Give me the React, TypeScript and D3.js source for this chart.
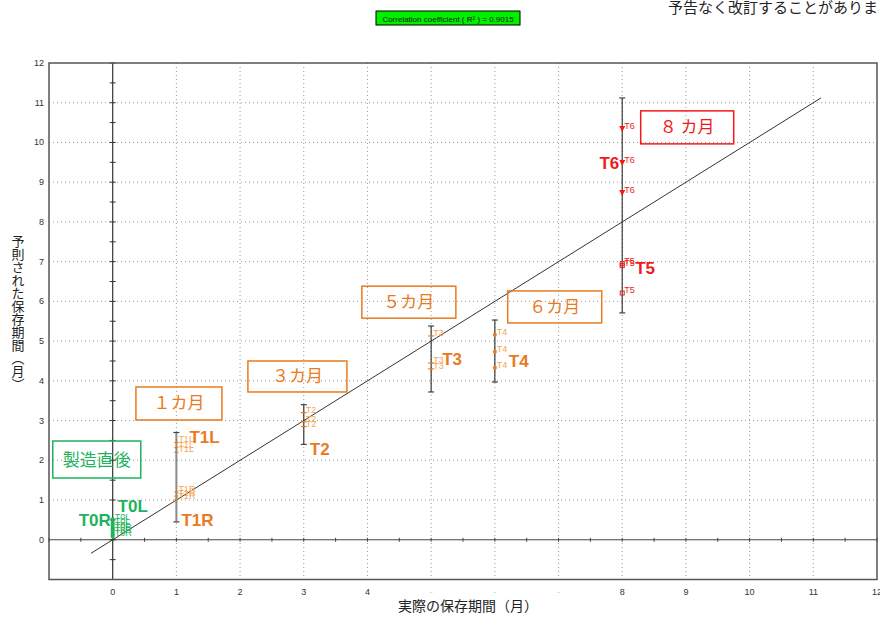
import React from "react";
import * as d3 from "d3";

// Axis extents and tick labels (months)
const X_DOMAIN = [-1, 12];
const Y_DOMAIN = [-1, 12];
const X_TICK_VALUES = [0, 1, 2, 3, 4, 5, 6, 7, 8, 9, 10, 11, 12];
const X_TICK_LABELS = ["0", "1", "2", "3", "4", "-", "-", "-", "8", "9", "10", "11", "12"];
const Y_TICK_VALUES = [0, 1, 2, 3, 4, 5, 6, 7, 8, 9, 10, 11, 12];

// Predicted storage period per sampling point (month on x, predicted months on y)
const T0L_VALUES = [0.5, 0.4, 0.3];
const T0R_VALUES = [0.25, 0.17, 0.1];
const T1L_VALUES = [2.45, 2.32, 2.2];
const T1R_VALUES = [1.2, 1.1, 1.02];
const T2_VALUES = [3.2, 2.97, 2.85];
const T3_VALUES = [5.13, 4.45, 4.3];
const T4_VALUES = [5.16, 4.73, 4.33];
const T5_VALUES = [6.95, 6.9, 6.21];
const T6_VALUES = [10.34, 9.48, 8.73];

const SERIES_NAMES = ["T0L", "T0R", "T1L", "T1R", "T2", "T3", "T4", "T5", "T6"];
const SERIES_MONTHS = [0, 0, 1, 1, 3, 5, 6, 8, 8];
const SERIES_VALUES = [T0L_VALUES, T0R_VALUES, T1L_VALUES, T1R_VALUES, T2_VALUES, T3_VALUES, T4_VALUES, T5_VALUES, T6_VALUES];

// Range bars
const BAR_MONTHS = [1, 3, 5, 6, 8];
const BAR_LOW = [0.45, 2.4, 3.72, 3.97, 5.71];
const BAR_HIGH = [2.7, 3.4, 5.38, 5.53, 11.12];

// Regression line y = x
const FIT_FROM = -0.34;
const FIT_TO = 11.12;
const R2_TEXT = "Correlation coefficient ( R\u00b2 ) = 0.9015";

// Stage boxes
const STAGE_TEXTS = ["製造直後", "１カ月", "３カ月", "５カ月", "６カ月", "８ カ月"];

const GREEN = "#1fb35e";
const ORANGE = "#ea7a1e";
const ORANGE_LIGHT = "#f5a556";
const RED = "#f01a1a";

const W = 880;
const H = 617;

const x = d3.scaleLinear().domain(X_DOMAIN).range([49, 877]);
const y = d3.scaleLinear().domain(Y_DOMAIN).range([579.5, 63]);

const seriesColor = (name: string) =>
  name.startsWith("T0") ? GREEN : name === "T5" || name === "T6" ? RED : ORANGE;
const smallLabelColor = (name: string) =>
  name.startsWith("T0") ? GREEN : name === "T5" || name === "T6" ? RED : ORANGE_LIGHT;

// Stage box placement: centre in data units, size in px
const STAGE_LAYOUT = [
  { cx: -0.25, cy: 2.02, w: 88, h: 37, color: GREEN },
  { cx: 1.04, cy: 3.43, w: 86, h: 33, color: ORANGE },
  { cx: 2.9, cy: 4.11, w: 99, h: 31, color: ORANGE },
  { cx: 4.65, cy: 5.98, w: 94, h: 32, color: ORANGE },
  { cx: 6.94, cy: 5.86, w: 94, h: 32, color: ORANGE },
  { cx: 9.02, cy: 10.38, w: 93, h: 33, color: RED },
];

// Big series labels: anchor in data units plus pixel offset
const BIG_LABELS = [
  { text: "T0L", mx: 0, my: 0.85, dx: 5, anchor: "start", color: GREEN },
  { text: "T0R", mx: 0, my: 0.5, dx: -34, anchor: "start", color: GREEN },
  { text: "T1L", mx: 1, my: 2.59, dx: 13, anchor: "start", color: ORANGE },
  { text: "T1R", mx: 1, my: 0.5, dx: 5, anchor: "start", color: ORANGE },
  { text: "T2", mx: 3, my: 2.28, dx: 6, anchor: "start", color: ORANGE },
  { text: "T3", mx: 5, my: 4.55, dx: 11, anchor: "start", color: ORANGE },
  { text: "T4", mx: 6, my: 4.5, dx: 14, anchor: "start", color: ORANGE },
  { text: "T5", mx: 8, my: 6.85, dx: 13, anchor: "start", color: RED },
  { text: "T6", mx: 8, my: 9.48, dx: -3, anchor: "end", color: RED },
];

function Marker({ name, cx, cy }: { name: string; cx: number; cy: number }) {
  const c = seriesColor(name);
  if (name.startsWith("T0")) return <ellipse cx={cx} cy={cy} rx={2} ry={3} fill={c} />;
  if (name === "T6")
    return <path d={`M${cx - 3},${cy - 3}L${cx + 3},${cy - 3}L${cx},${cy + 3}Z`} fill={c} />;
  if (name === "T5")
    return <rect x={cx - 2} y={cy - 2} width={4} height={4} fill="none" stroke={c} strokeWidth={1} />;
  if (name === "T4") return <circle cx={cx} cy={cy} r={2} fill={c} />;
  if (name === "T3" || name === "T2")
    return <line x1={cx - 3} x2={cx + 3} y1={cy} y2={cy} stroke={c} strokeWidth={1.2} />;
  return <line x1={cx - 2} x2={cx + 2} y1={cy} y2={cy} stroke={c} strokeWidth={1.2} />;
}

export default function App() {
  const halfTicks = d3.range(-1, 12.01, 0.5);
  const gridVals = d3.range(1, 12);
  const [x0, x1] = x.range();
  const [yb, yt] = y.range();
  const sansFont = "'Liberation Sans', Arial, sans-serif";
  const cjkFont = "'Noto Sans CJK JP', 'Noto Sans', sans-serif";

  return (
    <svg
      width={W}
      height={H}
      style={{ position: "absolute", left: 0, top: 0, background: "#fff" }}
    >
      {/* header */}
      <text x={668} y={13} fontSize={15} fontFamily={cjkFont} fill="#222">
        予告なく改訂することがありま
      </text>
      <rect x={376} y={11} width={144} height={14} fill="#00f000" stroke="#000" strokeWidth={1} />
      <text x={448} y={21.5} fontSize={8} fontFamily={sansFont} textAnchor="middle" fill="#111">
        {R2_TEXT}
      </text>

      {/* dotted grid */}
      {gridVals.map((v) => (
        <line key={"gx" + v} x1={x(v)} x2={x(v)} y1={yt} y2={yb} stroke="#999" strokeWidth={1} strokeDasharray="1,3" />
      ))}
      {gridVals.map((v) => (
        <line key={"gy" + v} x1={x0} x2={x1} y1={y(v)} y2={y(v)} stroke="#999" strokeWidth={1} strokeDasharray="1,3" />
      ))}

      {/* zero axes with half-month ticks */}
      <line x1={x(0)} x2={x(0)} y1={yt} y2={yb} stroke="#333" strokeWidth={1.2} />
      <line x1={x0} x2={x1} y1={y(0)} y2={y(0)} stroke="#444" strokeWidth={1.2} />
      {halfTicks.map((v) => (
        <line key={"ty" + v} x1={x(0) - 3} x2={x(0) + 3} y1={y(v)} y2={y(v)} stroke="#333" strokeWidth={1} />
      ))}
      {halfTicks.map((v) => (
        <line key={"tx" + v} x1={x(v)} x2={x(v)} y1={y(0) - 2} y2={y(0) + 2} stroke="#444" strokeWidth={1} />
      ))}

      {/* frame */}
      <rect x={x0} y={yt} width={x1 - x0} height={yb - yt} fill="none" stroke="#555" strokeWidth={1.5} />

      {/* tick labels */}
      {Y_TICK_VALUES.map((v) => (
        <text key={"yl" + v} x={44} y={y(v) + 3} fontSize={9} fontFamily={sansFont} textAnchor="end" fill="#333">
          {v}
        </text>
      ))}
      {X_TICK_VALUES.map((v, i) => (
        <text
          key={"xl" + v}
          x={x(v)}
          y={595}
          fontSize={9}
          fontFamily={sansFont}
          textAnchor="middle"
          fill={X_TICK_LABELS[i] === "-" ? "#ccc" : "#333"}
        >
          {X_TICK_LABELS[i]}
        </text>
      ))}

      {/* axis titles */}
      <text x={468} y={611} fontSize={14} fontFamily={cjkFont} textAnchor="middle" fill="#222">
        実際の保存期間（月）
      </text>
      <text
        x={18}
        y={235}
        fontSize={13}
        fontFamily={cjkFont}
        fill="#222"
        style={{ writingMode: "vertical-rl" } as any}
      >
        予則された保存期間（月）
      </text>

      {/* regression line */}
      <line x1={x(FIT_FROM)} y1={y(FIT_FROM)} x2={x(FIT_TO)} y2={y(FIT_TO)} stroke="#333" strokeWidth={1} />

      {/* range bars */}
      {BAR_MONTHS.map((m, i) => {
        const c = m === 1 ? "#8a8a8a" : "#3a3a3a";
        const sw = m === 1 ? 2 : 1.2;
        return (
          <g key={"bar" + m}>
            <line x1={x(m)} x2={x(m)} y1={y(BAR_LOW[i])} y2={y(BAR_HIGH[i])} stroke={c} strokeWidth={sw} />
            <line x1={x(m) - 3} x2={x(m) + 3} y1={y(BAR_LOW[i])} y2={y(BAR_LOW[i])} stroke="#444" strokeWidth={1.2} />
            <line x1={x(m) - 3} x2={x(m) + 3} y1={y(BAR_HIGH[i])} y2={y(BAR_HIGH[i])} stroke="#444" strokeWidth={1.2} />
          </g>
        );
      })}

      {/* data points with small labels */}
      {SERIES_NAMES.map((name, si) =>
        SERIES_VALUES[si].map((v, j) => {
          const cx = x(SERIES_MONTHS[si]);
          const cy = y(v);
          return (
            <g key={name + j}>
              <Marker name={name} cx={cx} cy={cy} />
              <text x={cx + 2} y={cy} fontSize={9} fontFamily={sansFont} fill={smallLabelColor(name)}>
                {name}
              </text>
            </g>
          );
        })
      )}

      {/* big series labels */}
      {BIG_LABELS.map((l) => (
        <text
          key={"big" + l.text}
          x={x(l.mx) + l.dx}
          y={y(l.my) + 6}
          fontSize={17}
          fontWeight="bold"
          fontFamily={sansFont}
          textAnchor={l.anchor as any}
          fill={l.color}
        >
          {l.text}
        </text>
      ))}

      {/* stage boxes */}
      {STAGE_LAYOUT.map((b, i) => (
        <g key={"stage" + i}>
          <rect
            x={x(b.cx) - b.w / 2}
            y={y(b.cy) - b.h / 2}
            width={b.w}
            height={b.h}
            fill="none"
            stroke={b.color}
            strokeWidth={1.5}
          />
          <text
            x={x(b.cx)}
            y={y(b.cy) + 6}
            fontSize={17}
            fontFamily={cjkFont}
            textAnchor="middle"
            fill={b.color}
          >
            {STAGE_TEXTS[i]}
          </text>
        </g>
      ))}
    </svg>
  );
}
